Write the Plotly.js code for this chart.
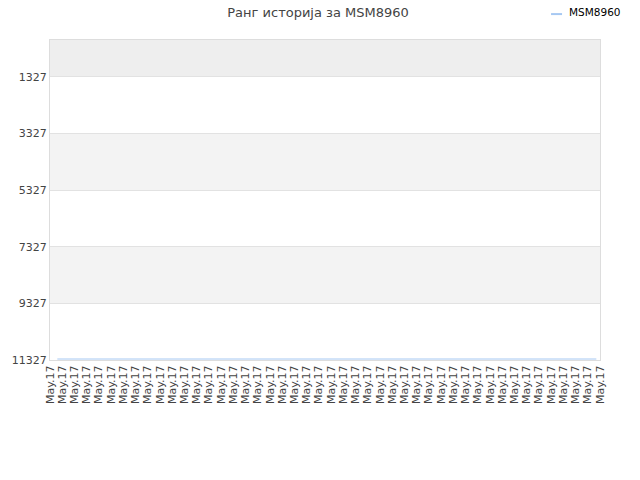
<!DOCTYPE html>
<html>
<head>
    <title>Ранг историја за MSM8960</title>
    <script src="https://cdn.plot.ly/plotly-3.0.1.min.js"></script>
    <style>
        * { margin: 0; padding: 0; }
        body { background: #fff; }
        #plot { width: 640px; height: 480px; }
    </style>
</head>
<body>
    <div id="plot"></div>
    <script>
        // x axis: one tick per sample, all labelled May.17
        const xLabels = Array(46).fill('May.17');
        const xTicks = xLabels.map((_, i) => i);

        // rank series (position on the tick scale, rank value)
        const seriesName = 'MSM8960';
        const seriesX = [0.6, 11, 22, 33, 44.7];
        const seriesRank = [11292, 11292, 11292, 11292, 11292];

        const yTicks = [1327, 3327, 5327, 7327, 9327, 11327];
        const yTickText = yTicks.map(String);
        const yTop = 20;

        const fontFamily = '"DejaVu Sans", Verdana, sans-serif';
        const lineColor = '#a6c8f2';

        // alternating background bands between y ticks
        const bandEdges = [yTop].concat(yTicks);
        const shapes = [];
        for (let i = 0; i < bandEdges.length - 1; i++) {
            if (i % 2 === 1) continue;
            shapes.push({
                type: 'rect', xref: 'paper', yref: 'y', layer: 'below',
                x0: 0, x1: 1, y0: bandEdges[i], y1: bandEdges[i + 1],
                fillcolor: i === 0 ? '#eeeeee' : '#f3f3f3',
                line: { width: 0 }
            });
        }
        // legend sample
        shapes.push({
            type: 'line', xref: 'paper', yref: 'paper',
            x0: 0.911, x1: 0.931, y0: 1.081, y1: 1.081,
            line: { color: lineColor, width: 2 }
        });

        const data = [{
            x: seriesX,
            y: seriesRank,
            type: 'scatter',
            mode: 'lines',
            name: seriesName,
            line: { color: lineColor, width: 1 },
            showlegend: false
        }];

        const layout = {
            width: 640,
            height: 480,
            title: {
                text: 'Ранг историја за MSM8960',
                font: { family: fontFamily, size: 13, color: '#444' },
                x: 0.497, xanchor: 'center', y: 0.975, yanchor: 'middle'
            },
            margin: { l: 50, r: 40, t: 40, b: 120 },
            paper_bgcolor: 'white',
            plot_bgcolor: 'white',
            font: { family: fontFamily, size: 11, color: '#444' },
            xaxis: {
                range: [0, 45],
                tickmode: 'array',
                tickvals: xTicks,
                ticktext: xLabels,
                tickangle: -90,
                tickfont: { size: 11, color: '#444' },
                showgrid: false,
                zeroline: false,
                showline: true,
                linecolor: '#dddddd',
                mirror: true,
                ticks: ''
            },
            yaxis: {
                range: [11327, yTop],
                tickmode: 'array',
                tickvals: yTicks,
                ticktext: yTickText,
                tickfont: { size: 11, color: '#444' },
                showgrid: true,
                gridcolor: '#e2e2e2',
                zeroline: false,
                showline: true,
                linecolor: '#dddddd',
                mirror: true,
                ticks: ''
            },
            shapes: shapes,
            annotations: [{
                xref: 'paper', yref: 'paper',
                x: 0.94, y: 1.0875,
                xanchor: 'left', yanchor: 'middle',
                text: seriesName,
                showarrow: false,
                font: { family: fontFamily, size: 10.5, color: '#000' }
            }]
        };

        Plotly.newPlot('plot', data, layout, { displayModeBar: false, staticPlot: true });
    </script>
</body>
</html>
